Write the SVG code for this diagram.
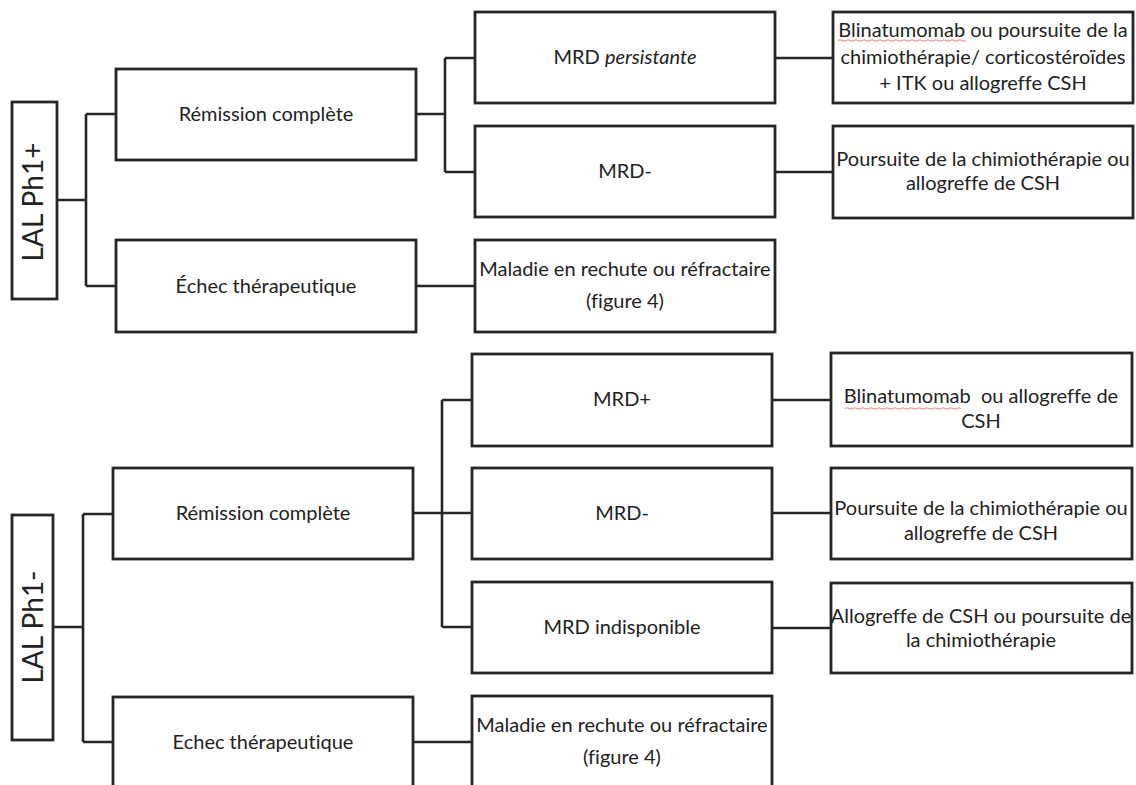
<svg xmlns="http://www.w3.org/2000/svg" width="1136" height="785" viewBox="0 0 1136 785">
<style>
.box{fill:#fff;stroke:#262626;stroke-width:2.8}
.ln{fill:none;stroke:#262626;stroke-width:2.6}
text{font-family:Lato,"Open Sans","Liberation Sans",sans-serif;font-size:20px;fill:#222;text-anchor:middle;font-variant-ligatures:none}
.big{font-size:28px}
.sq{fill:none;stroke:#f08080;stroke-width:1}
</style>
<rect width="1136" height="785" fill="#fff"/>
<g id="connectors">
<path class="ln" d="M57 200H86M86 114V286M86 114H116M86 286H116"/>
<path class="ln" d="M416 114H445M445 58V172M445 58H475M445 172H475"/>
<path class="ln" d="M416 286H475"/>
<path class="ln" d="M775 58H833M775 172H833"/>
<path class="ln" d="M53 627H83M83 514V742M83 514H113M83 742H113"/>
<path class="ln" d="M413 513H472M442 400V627M442 400H472M442 627H472"/>
<path class="ln" d="M413 742H472"/>
<path class="ln" d="M772 400H831M772 513H831M772 628H831"/>
</g>
<g id="lal-ph1plus">
<rect class="box" x="12" y="102" width="45" height="197"/>
<text class="big" transform="translate(43 202) rotate(-90)">LAL Ph1+</text>
</g>
<g id="rc1">
<rect class="box" x="116" y="69" width="300" height="91"/>
<text x="266" y="121">Rémission complète</text>
</g>
<g id="echec1">
<rect class="box" x="116" y="240" width="300" height="92"/>
<text x="266" y="293">Échec thérapeutique</text>
</g>
<g id="mrd-persist">
<rect class="box" x="475" y="12" width="300" height="91"/>
<text x="625" y="64">MRD <tspan font-style="italic">persistante</tspan></text>
</g>
<g id="mrd-neg1">
<rect class="box" x="475" y="126" width="300" height="91"/>
<text x="625" y="178">MRD-</text>
</g>
<g id="maladie1">
<rect class="box" x="475" y="240" width="300" height="92"/>
<text x="625" y="276">Maladie en rechute ou réfractaire</text>
<text x="625" y="308">(figure 4)</text>
</g>
<g id="blina1">
<rect class="box" x="833" y="12" width="300" height="91"/>
<text x="983" y="37">Blinatumomab ou poursuite de la</text>
<text x="983" y="63.5">chimiothérapie/ corticostéroïdes</text>
<text x="983" y="90">+ ITK ou allogreffe CSH</text>
<path class="sq" d="M838 40.5q2 -1.5 4 0t4 0t4 0t4 0t4 0t4 0t4 0t4 0t4 0t4 0t4 0t4 0t4 0t4 0t4 0t4 0t4 0t4 0t4 0t4 0t4 0t4 0t4 0t4 0t4 0t4 0t4 0t4 0t4 0t4 0t4 0t4 0"/>
</g>
<g id="poursuite1">
<rect class="box" x="833" y="126" width="300" height="92"/>
<text x="983" y="166">Poursuite de la chimiothérapie ou</text>
<text x="983" y="190">allogreffe de CSH</text>
</g>
<g id="lal-ph1minus">
<rect class="box" x="12" y="515" width="41" height="225"/>
<text class="big" transform="translate(43 627) rotate(-90)">LAL Ph1-</text>
</g>
<g id="rc2">
<rect class="box" x="113" y="468" width="300" height="91"/>
<text x="263" y="520">Rémission complète</text>
</g>
<g id="echec2">
<rect class="box" x="113" y="697" width="300" height="92"/>
<text x="263" y="749">Echec thérapeutique</text>
</g>
<g id="mrd-pos">
<rect class="box" x="472" y="354" width="300" height="92"/>
<text x="622" y="406">MRD+</text>
</g>
<g id="mrd-neg2">
<rect class="box" x="472" y="468" width="300" height="91"/>
<text x="622" y="520">MRD-</text>
</g>
<g id="mrd-indisp">
<rect class="box" x="472" y="582" width="300" height="91"/>
<text x="622" y="634">MRD indisponible</text>
</g>
<g id="maladie2">
<rect class="box" x="472" y="696" width="300" height="92"/>
<text x="622" y="732">Maladie en rechute ou réfractaire</text>
<text x="622" y="764">(figure 4)</text>
</g>
<g id="blina2">
<rect class="box" x="831" y="353" width="301" height="93"/>
<text x="981" y="403" xml:space="preserve">Blinatumomab  ou allogreffe de</text>
<text x="981" y="428">CSH</text>
<path class="sq" d="M845 408.5q2 -1.5 4 0t4 0t4 0t4 0t4 0t4 0t4 0t4 0t4 0t4 0t4 0t4 0t4 0t4 0t4 0t4 0t4 0t4 0t4 0t4 0t4 0t4 0t4 0t4 0t4 0t4 0t4 0t4 0t4 0"/>
</g>
<g id="poursuite2">
<rect class="box" x="831" y="468" width="301" height="91"/>
<text x="981" y="515">Poursuite de la chimiothérapie ou</text>
<text x="981" y="540">allogreffe de CSH</text>
</g>
<g id="allogreffe">
<rect class="box" x="831" y="583" width="301" height="90"/>
<text x="981" y="623">Allogreffe de CSH ou poursuite de</text>
<text x="981" y="647">la chimiothérapie</text>
</g>
</svg>
